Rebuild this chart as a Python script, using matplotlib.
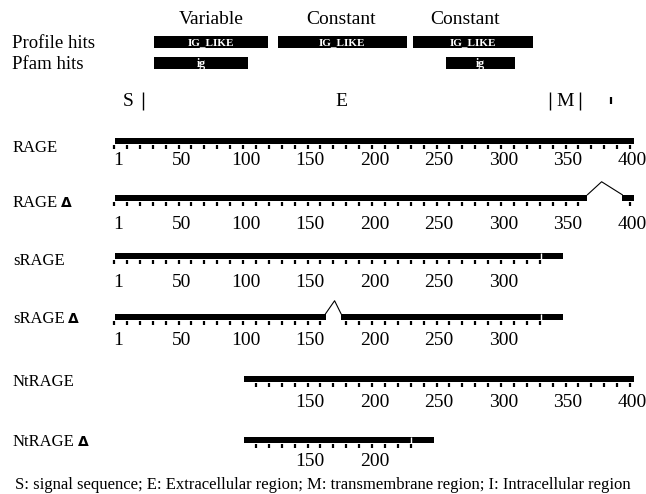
import matplotlib
matplotlib.use("Agg")
import matplotlib.pyplot as plt

# ---------------- data (residue numbers) ----------------
domain_titles = ["Variable", "Constant", "Constant"]
domain_title_pos = [75, 176, 272]
profile_hits = [(31, 119), (127, 227), (232, 325)]
profile_names = ["IG_LIKE", "IG_LIKE", "IG_LIKE"]
pfam_hits = [(31, 104), (257, 311)]
pfam_names = ["ig", "ig"]

isoforms = ["RAGE", "RAGE", "sRAGE", "sRAGE", "NtRAGE", "NtRAGE"]
isoform_delta = [False, True, False, True, False, True]
segments = [
    [(1, 403)],
    [(1, 367), (394, 403)],
    [(1, 331), (331, 348)],
    [(1, 164), (176, 331), (331, 348)],
    [(101, 403)],
    [(101, 230), (230, 248)],
]
deletions = [None, (367, 378, 394), None, (164, 171, 176), None, None]
tick_ranges = [(0, 400), (0, 400), (0, 330), (0, 330), (110, 400), (110, 230)]
label_values = [
    [1, 50, 100, 150, 200, 250, 300, 350, 400],
    [1, 50, 100, 150, 200, 250, 300, 350, 400],
    [1, 50, 100, 150, 200, 250, 300],
    [1, 50, 100, 150, 200, 250, 300],
    [150, 200, 250, 300, 350, 400],
    [150, 200],
]
region_marks = [22.5, 338, 361]
small_mark = 385
region_letters = ["S", "E", "M"]
region_letter_pos = [11, 176, 349.5]
footer = "S: signal sequence; E: Extracellular region; M: transmembrane region; I: Intracellular region"

# ---------------- layout ----------------
W, H = 646, 494
fig = plt.figure(figsize=(W / 100, H / 100), dpi=100)
ax = fig.add_axes([0, 0, 1, 1])
scale = 1.29
x0px = 114
ax.set_xlim(-x0px / scale, (W - x0px) / scale)
ax.set_ylim(H, 0)
ax.axis("off")

serif = ["Liberation Serif", "DejaVu Serif"]


def px2res(px):
    return (px - x0px) / scale


bar_y = [141, 198, 256, 317, 379, 440]
name_base = [152, 207, 265, 323, 386, 446]
lab_base = [165, 229, 287, 345, 407, 466]
bar_h = 6.5

# header
for t, p in zip(domain_titles, domain_title_pos):
    ax.text(p, 24, t, family=serif, fontsize=14, ha="center", va="baseline")
ax.text(px2res(12), 48, "Profile hits", family=serif, fontsize=13.5, va="baseline")
ax.text(px2res(12), 69, "Pfam hits", family=serif, fontsize=13.5, va="baseline")
for (a, b), n in zip(profile_hits, profile_names):
    ax.barh(42.5, b - a, left=a, height=12, color="black")
    ax.text((a + b) / 2, 43, n, color="white", fontsize=8, fontweight="bold",
            family=serif, ha="center", va="center")
for (a, b), n in zip(pfam_hits, pfam_names):
    ax.barh(63.5, b - a, left=a, height=12, color="black")
    ax.text((a + b) / 2, 63.5, n, color="white", fontsize=8.5, fontweight="bold",
            family=serif, ha="center", va="center")

# region annotation line
for l, p in zip(region_letters, region_letter_pos):
    ax.text(p, 106, l, family=serif, fontsize=14, ha="center", va="baseline")
ax.vlines(region_marks, 92, 110, color="black", lw=1.0)
ax.vlines([small_mark], 97, 104, color="black", lw=1.6)

# isoforms
for i, name in enumerate(isoforms):
    y = bar_y[i]
    t = ax.text(px2res(13), name_base[i], name, family=serif, fontsize=12, va="baseline")
    if isoform_delta[i]:
        fig.canvas.draw()
        bb = t.get_window_extent()
        inv = ax.transData.inverted()
        xr = inv.transform((bb.x1, 0))[0]
        ax.text(xr + 2.5, name_base[i] - 0.5, "\u0394", family="DejaVu Sans", fontweight="bold",
                fontsize=10, va="baseline")
    segs = segments[i]
    for (a, b) in segs:
        ax.barh(y, b - a, left=a, height=bar_h, color="black")
    # white separators between touching segments
    for (a1, b1), (a2, b2) in zip(segs[:-1], segs[1:]):
        if b1 == a2:
            ax.vlines([b1], y - bar_h / 2, y + bar_h / 2, color="white", lw=1.0)
    d = deletions[i]
    if d is not None:
        ytop = y - bar_h / 2
        ax.plot([d[0], d[1], d[2]], [ytop, ytop - 13, ytop], color="black", lw=0.8)
    # ticks (only under bar)
    lo, hi = tick_ranges[i]
    ticks = []
    for v in range(lo, hi + 1, 10):
        if any(a - 1 <= v <= b + 1 for (a, b) in segs):
            ticks.append(v)
    ax.vlines(ticks, y + bar_h / 2 + 1, y + bar_h / 2 + 4.5, color="black", lw=1.6)
    for v in label_values[i]:
        ax.text(v + 2, lab_base[i], str(v), family=serif, fontsize=14,
                ha="center", va="baseline")

ax.text(px2res(323), 489, footer, family=serif, fontsize=12, ha="center", va="baseline")

fig.savefig("out.png", dpi=100)
